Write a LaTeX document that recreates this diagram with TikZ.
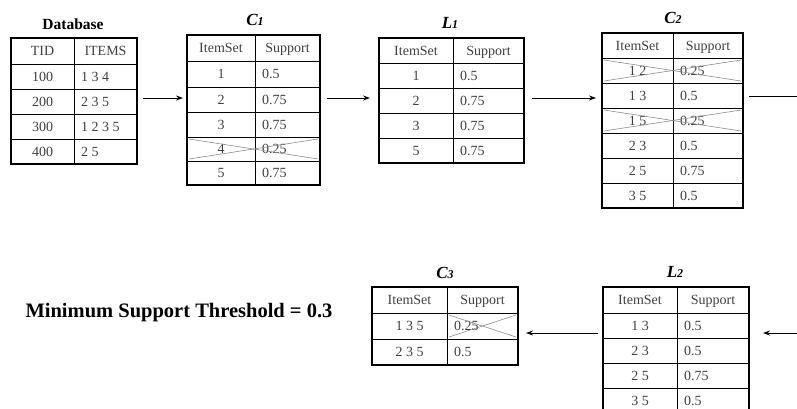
\documentclass[tikz,border=0pt]{standalone}
\usepackage{fontspec}
\setmainfont{Liberation Serif}
\usetikzlibrary{arrows.meta}
\tikzset{
 frame/.style={draw, line width=2.8pt, inner sep=0pt, outer sep=0pt, anchor=north west},
 innerline/.style={line width=0.8pt},
 cell/.style={inner sep=0pt, font=\fontsize{14}{14}\selectfont, text=black!75, text height=9.5pt, text depth=0pt},
 xline/.style={draw=black!45, line width=0.6pt},
 arr/.style={-{Stealth[length=7pt,width=5pt]}, line width=0.9pt},
 plainline/.style={line width=0.9pt},
 ttl/.style={font=\fontsize{17}{17}\selectfont\bfseries\itshape, inner sep=0pt},
}
% name, idx, x0, xd, x1, ytop, ybot, left text, right text
\newcommand\trow[9]{%
  \draw[innerline] (#3,#6) -- (#5,#6);
  \node[cell] (#1-#2a) at ({(#3+#4)/2},{(#6+#7)/2}) {#8};
  \node[cell, anchor=west] (#1-#2b) at ({#4+7},{(#6+#7)/2}) {#9};
}
% name, x0, xd, x1, ytop, ybot, left, right
\newcommand\thdr[8]{%
  \node[cell] (#1-ha) at ({(#2+#3)/2},{(#5+#6)/2}) {#7};
  \node[cell] (#1-hb) at ({(#3+#4)/2},{(#5+#6)/2}) {#8};
}
\begin{document}
\begin{tikzpicture}[x=1pt,y=-1pt]
\useasboundingbox (0,0) rectangle (797,408);

% ---------- Database ----------
\node[font=\fontsize{15.5}{15.5}\selectfont\bfseries, inner sep=0pt] (t-db) at (73,24) {Database};
\draw[innerline] (74,38) -- (74,164);
\thdr{db}{11}{74}{137}{38}{64}{TID}{ITEMS}
\trow{db}{1}{11}{74}{137}{64}{89}{100}{1 3 4}
\trow{db}{2}{11}{74}{137}{89}{114}{200}{2 3 5}
\trow{db}{3}{11}{74}{137}{114}{139}{300}{1 2 3 5}
\trow{db}{4}{11}{74}{137}{139}{164}{400}{2 5}
\node[frame, minimum width=126, minimum height=126] (db) at (11,38) {};

% ---------- C1 ----------
\node[ttl] (t-c1) at (255,20) {C\fontsize{12}{12}\selectfont 1};
\draw[innerline] (255,35) -- (255,185);
\thdr{c1}{187}{255}{320}{35}{61}{ItemSet}{Support}
\trow{c1}{1}{187}{255}{320}{61}{87}{1}{0.5}
\trow{c1}{2}{187}{255}{320}{87}{112}{2}{0.75}
\trow{c1}{3}{187}{255}{320}{112}{137}{3}{0.75}
\trow{c1}{4}{187}{255}{320}{137}{161}{4}{0.25}
\trow{c1}{5}{187}{255}{320}{161}{185}{5}{0.75}
\draw[xline] (189,139) -- (318,159);
\draw[xline] (189,159) -- (318,139);
\node[frame, minimum width=133, minimum height=150] (c1) at (187,35) {};

% ---------- L1 ----------
\node[ttl] (t-l1) at (450,23) {L\fontsize{12}{12}\selectfont 1};
\draw[innerline] (453,38) -- (453,163);
\thdr{l1}{379}{453}{524}{38}{63}{ItemSet}{Support}
\trow{l1}{1}{379}{453}{524}{63}{88}{1}{0.5}
\trow{l1}{2}{379}{453}{524}{88}{113}{2}{0.75}
\trow{l1}{3}{379}{453}{524}{113}{138}{3}{0.75}
\trow{l1}{4}{379}{453}{524}{138}{163}{5}{0.75}
\node[frame, minimum width=145, minimum height=125] (l1) at (379,38) {};

% ---------- C2 ----------
\node[ttl] (t-c2) at (673,18) {C\fontsize{12}{12}\selectfont 2};
\draw[innerline] (673,33) -- (673,208);
\thdr{c2}{602}{673}{743}{33}{58}{ItemSet}{Support}
\trow{c2}{1}{602}{673}{743}{58}{83}{1 2}{0.25}
\trow{c2}{2}{602}{673}{743}{83}{108}{1 3}{0.5}
\trow{c2}{3}{602}{673}{743}{108}{133}{1 5}{0.25}
\trow{c2}{4}{602}{673}{743}{133}{158}{2 3}{0.5}
\trow{c2}{5}{602}{673}{743}{158}{183}{2 5}{0.75}
\trow{c2}{6}{602}{673}{743}{183}{208}{3 5}{0.5}
\draw[xline] (604,60) -- (741,81);
\draw[xline] (604,81) -- (741,60);
\draw[xline] (604,110) -- (741,131);
\draw[xline] (604,131) -- (741,110);
\node[frame, minimum width=141, minimum height=175] (c2) at (602,33) {};

% ---------- L2 ----------
\node[ttl] (t-l2) at (675,272) {L\fontsize{12}{12}\selectfont 2};
\draw[innerline] (677,287) -- (677,413);
\thdr{l2}{603}{677}{749}{287}{313}{ItemSet}{Support}
\trow{l2}{1}{603}{677}{749}{313}{338}{1 3}{0.5}
\trow{l2}{2}{603}{677}{749}{338}{363}{2 3}{0.5}
\trow{l2}{3}{603}{677}{749}{363}{388}{2 5}{0.75}
\trow{l2}{4}{603}{677}{749}{388}{413}{3 5}{0.5}
\node[frame, minimum width=146, minimum height=126] (l2) at (603,287) {};

% ---------- C3 ----------
\node[ttl] (t-c3) at (445,273) {C\fontsize{12}{12}\selectfont 3};
\draw[innerline] (447,287) -- (447,365);
\thdr{c3}{372}{447}{518}{287}{313}{ItemSet}{Support}
\trow{c3}{1}{372}{447}{518}{313}{339}{1 3 5}{0.25}
\trow{c3}{2}{372}{447}{518}{339}{365}{2 3 5}{0.5}
\draw[xline] (449,315) -- (516,337);
\draw[xline] (449,337) -- (516,315);
\node[frame, minimum width=146, minimum height=78] (c3) at (372,287) {};

% ---------- threshold ----------
\node[font=\fontsize{20.5}{20.5}\selectfont\bfseries, inner sep=0pt] (thr) at (179,313) {Minimum Support Threshold = 0.3};

% ---------- connectors ----------
\coordinate (a1s) at (143,98);  \coordinate (a1e) at (183,98);
\coordinate (a2s) at (327,98);  \coordinate (a2e) at (370,98);
\coordinate (a3s) at (532,98);  \coordinate (a3e) at (596,98);
\coordinate (a4s) at (749,96);  \coordinate (a4e) at (800,96);
\coordinate (a5s) at (800,333); \coordinate (a5e) at (763,333);
\coordinate (a6s) at (598,333); \coordinate (a6e) at (526,333);
\draw[arr] (a1s) -- (a1e);
\draw[arr] (a2s) -- (a2e);
\draw[arr] (a3s) -- (a3e);
\draw[plainline] (a4s) -- (a4e);
\draw[arr] (a5s) -- (a5e);
\draw[arr] (a6s) -- (a6e);
\end{tikzpicture}
\end{document}
